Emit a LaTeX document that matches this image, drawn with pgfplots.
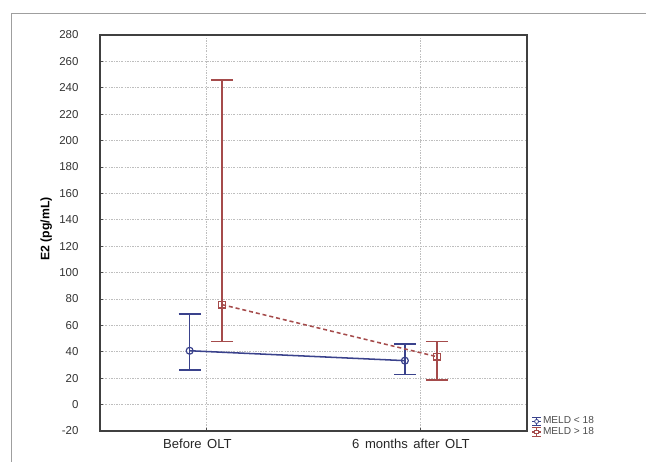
\documentclass[border=0pt]{standalone}
\usepackage{pgfplots}
\pgfplotsset{compat=1.18}
\usepackage{fontspec}
\setmainfont{Liberation Sans}
\definecolor{bl}{RGB}{58,66,140}
\definecolor{rd}{RGB}{165,75,75}
\definecolor{gridc}{RGB}{190,190,190}
\begin{document}
\begin{tikzpicture}[x=0.75pt,y=0.75pt]
\draw[gray!75, line width=0.75pt] (11,-10) -- (11,447) -- (700,447);
\begin{axis}[
  at={(75pt,22.5pt)}, anchor=south west,
  scale only axis, width=320.25pt, height=297pt,
  xmin=-0.5, xmax=1.5, ymin=-20, ymax=280,
  xtick={0,1}, xticklabels={Before\hspace{4.2pt}OLT, 6\hspace{4.2pt}months\hspace{4.2pt}after\hspace{4.2pt}OLT},
  ytick={-20,0,...,280},
  tick pos=left,
  major tick length=2pt,
  tick style={black!70, line width=0.5pt},
  axis line style={black!75, line width=1.3pt},
  grid=major,
  major grid style={gridc, line width=0.5pt, dash pattern=on 1.5pt off 1pt on 0.5pt off 1pt},
  /pgf/number format/assume math mode=true,
  yticklabel style={font=\fontsize{8.6}{10}\selectfont, text=black!80, inner sep=0pt, xshift=-16pt},
  xticklabel style={font=\fontsize{9.8}{11}\selectfont, text=black!85, inner sep=0pt, yshift=-6pt, xshift=-7pt},
  ylabel={\textbf{E2 (pg/mL)}},
  ylabel style={font=\fontsize{9.2}{10}\selectfont, at={(axis description cs:-0.126,0.51)}, anchor=center, rotate=0},
  legend style={at={(axis description cs:1.01,-0.018)}, anchor=south west, draw=none, fill=none,
     font=\fontsize{7.6}{8}\selectfont, text=black!70, row sep=-0.9pt, inner sep=0pt,
     nodes={inner sep=1pt}},
  legend cell align=left,
]
\addplot[bl, line width=1.15pt, mark=o, mark size=2.6pt, mark options={solid, fill=white, line width=0.9pt}, forget plot,
  error bars/.cd, y dir=both, y explicit, error mark=|, error mark options={bl, mark size=8.2pt, line width=1.2pt}, error bar style={bl, line width=1.15pt, solid},
  ] coordinates {
  (-0.08,40.8) += (0,27.8) -= (0,14.6)
  (0.928,33.3) += (0,12.4) -= (0,10.6)
};
\addplot[rd, line width=1.15pt, dash pattern=on 3pt off 2.2pt, mark=square, mark size=2.5pt, mark options={solid, fill=white, line width=0.9pt}, forget plot,
  error bars/.cd, y dir=both, y explicit, error mark=|, error mark options={rd, mark size=8.2pt, line width=1.2pt, solid}, error bar style={rd, line width=1.15pt, solid},
  ] coordinates {
  (0.072,75.7) += (0,170.2) -= (0,27.8)
  (1.078,36.3) += (0,11.6) -= (0,17.7)
};
\addlegendimage{legend image code/.code={
  \draw[bl, line width=0.8pt] (0pt,-3.2pt) -- (0pt,3.2pt) (-3.4pt,3.2pt)--(3.4pt,3.2pt) (-3.4pt,-3.2pt)--(3.4pt,-3.2pt) (-3.4pt,0pt)--(3.4pt,0pt);
  \draw[bl, fill=white, line width=0.6pt] (0pt,0pt) circle (1.5pt);}}
\addlegendentry{MELD < 18}
\addlegendimage{legend image code/.code={
  \draw[rd, line width=0.8pt] (0pt,-3.2pt) -- (0pt,3.2pt) (-3.4pt,3.2pt)--(3.4pt,3.2pt) (-3.4pt,-3.2pt)--(3.4pt,-3.2pt) (-3.4pt,0pt)--(3.4pt,0pt);
  \draw[rd, fill=white, line width=0.6pt] (-1.4pt,-1.4pt) rectangle (1.4pt,1.4pt);}}
\addlegendentry{MELD > 18}
\end{axis}
\pgfresetboundingbox
\useasboundingbox (0,0) rectangle (646,461);
\end{tikzpicture}
\end{document}
